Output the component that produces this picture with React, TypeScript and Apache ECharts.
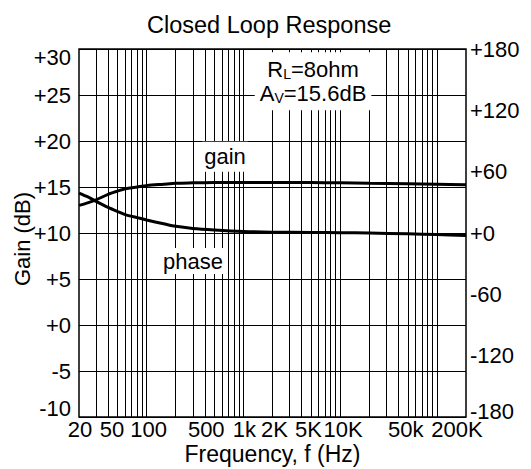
import { useEffect, useRef } from 'react';
import * as echarts from 'echarts';

// Frequency response data
const freqs = [20, 25, 30, 40, 50, 60, 80, 100, 150, 200, 300, 500, 1000, 2000, 5000, 10000, 20000, 50000, 100000, 200000];
const gainDb = [13.0, 13.3, 13.6, 14.2, 14.55, 14.8, 15.0, 15.15, 15.3, 15.4, 15.45, 15.5, 15.5, 15.5, 15.5, 15.45, 15.4, 15.35, 15.3, 15.25];
const phaseDeg = [39, 35, 31, 25, 21, 18, 15, 12.7, 9, 6.5, 4.5, 3, 1.5, 0.8, 0.5, 0.3, 0, -0.8, -1.5, -2.5];

// X tick labels
const xTickFreqs = [20, 50, 100, 500, 1000, 2000, 5000, 10000, 50000, 200000];
const xTickLabels = ['20', '50', '100', '500', '1k', '2K', '5K', '10K', '50k', '200K'];
const xTickShift = [1, -5.5, 2, -8, 1, 2, -2.5, 3, -2, -9];

// Vertical grid lines (1..9 per decade)
const gridMultipliers = [1, 2, 3, 4, 5, 6, 7, 8, 9];
const gridDecades = [10, 100, 1000, 10000, 100000];

// Annotations: [freq, gain dB]
const gainLabelPos = [646, 18.3];
const phaseLabelPos = [301, 6.95];
const condLabelPos = [5250, 26.5];

const FONT = '"Liberation Sans", Arial, Helvetica, sans-serif';

function fmtSigned(v: number) {
  return v > 0 ? '+' + v : v === 0 ? '+0' : String(v);
}

export default function App() {
  const ref = useRef<HTMLDivElement>(null);
  useEffect(() => {
    const chart = echarts.init(ref.current!, null, { renderer: 'svg' });
    const gridFreqs: number[] = [];
    gridDecades.forEach((d) =>
      gridMultipliers.forEach((m) => {
        const v = m * d;
        if (v > 20 && v < 200000) gridFreqs.push(v);
      })
    );
    const xRich: Record<string, any> = {};
    xTickShift.forEach((s, i) => {
      xRich['s' + i] = {
        fontSize: 22,
        lineHeight: 18,
        fontFamily: FONT,
        color: '#000',
        padding: s < 0 ? [0, -2 * s, 0, 0] : [0, 0, 0, 2 * s],
      };
    });
    const option: any = {
      animation: false,
      backgroundColor: '#fff',
      textStyle: { fontFamily: FONT },
      title: {
        text: 'Closed Loop Response',
        left: 142,
        top: 8,
        textStyle: { fontSize: 23.5, fontWeight: 'normal', color: '#000', fontFamily: FONT },
      },
      grid: {
        left: 79,
        right: 65,
        top: 49,
        bottom: 52,
        containLabel: false,
        outerBoundsMode: 'none',
        show: true,
        borderColor: '#000',
        borderWidth: 1.5,
        backgroundColor: 'transparent',
      },
      xAxis: [
        {
          type: 'log',
          logBase: 10,
          min: 20,
          max: 200000,
          position: 'bottom',
          axisLine: { show: false },
          axisTick: { show: false },
          axisLabel: { show: false },
          splitLine: { show: false },
          name: 'Frequency, f (Hz)',
          nameLocation: 'middle',
          nameGap: 25,
          nameMoveOverlap: false,
          nameTextStyle: { fontSize: 23, color: '#000', fontFamily: FONT },
        },
        {
          type: 'value',
          min: Math.log10(20),
          max: Math.log10(200000),
          position: 'bottom',
          axisLine: { show: false },
          axisTick: { show: false },
          splitLine: { show: false },
          axisLabel: {
            customValues: xTickFreqs.map((f) => Math.log10(f)),
            margin: 3,
            fontSize: 22,
            lineHeight: 18,
            color: '#000',
            fontFamily: FONT,
            formatter: (v: number) => {
              const i = xTickFreqs.findIndex((f) => Math.abs(Math.log10(f) - v) < 1e-6);
              if (i < 0) return '';
              return `{s${i}|${xTickLabels[i]}}`;
            },
            rich: xRich,
          },
        },
      ],
      yAxis: [
        {
          type: 'value',
          min: -10,
          max: 30,
          interval: 5,
          position: 'left',
          name: 'Gain (dB)',
          nameLocation: 'middle',
          nameGap: 46,
          nameMoveOverlap: false,
          nameTextStyle: { fontSize: 22, color: '#000', fontFamily: FONT, padding: [0, 12, 0, 0] },
          axisLine: { show: false },
          axisTick: { show: false },
          splitLine: { show: true, lineStyle: { color: '#000', width: 1 } },
          axisLabel: {
            margin: 8,
            fontSize: 22,
            color: '#000',
            fontFamily: FONT,
            formatter: (v: number) => {
              const s = fmtSigned(v);
              if (v === 30) return `{top|${s}}`;
              if (v === -10) return `{bot|${s}}`;
              return s;
            },
            rich: {
              top: { fontSize: 22, color: '#000', fontFamily: FONT, padding: [16, 0, 0, 0] },
              bot: { fontSize: 22, color: '#000', fontFamily: FONT, padding: [0, 0, 18, 0] },
            },
          },
        },
        {
          type: 'value',
          min: -180,
          max: 180,
          interval: 60,
          position: 'right',
          axisLine: { show: false },
          axisTick: { show: false },
          splitLine: { show: false },
          axisLabel: {
            margin: 4,
            fontSize: 22,
            color: '#000',
            fontFamily: FONT,
            formatter: (v: number) => {
              const s = fmtSigned(v);
              if (v === -180) return `{bot|${s}}`;
              return s;
            },
            rich: {
              bot: { fontSize: 22, lineHeight: 18, color: '#000', fontFamily: FONT, padding: [0, 0, 12, 0] },
            },
          },
        },
      ],
      series: [
        {
          name: 'gain',
          type: 'line',
          xAxisIndex: 0,
          yAxisIndex: 0,
          smooth: 0.3,
          showSymbol: false,
          z: 4,
          lineStyle: { color: '#000', width: 3 },
          data: freqs.map((f, i) => [f, gainDb[i]]),
          markLine: {
            silent: true,
            symbol: ['none', 'none'],
            z: 2,
            label: { show: false },
            emphasis: { disabled: true },
            lineStyle: { color: '#000', width: 1, type: 'solid' },
            data: gridFreqs.map((v) => ({ xAxis: v })),
          },
          markPoint: {
            silent: true,
            z: 10,
            symbol: 'rect',
            symbolSize: 0,
            data: [
              {
                coord: gainLabelPos,
                label: {
                  show: true,
                  position: 'inside',
                  formatter: 'gain',
                  fontSize: 22,
                  color: '#000',
                  fontFamily: FONT,
                  backgroundColor: '#fff',
                  padding: [4, 2],
                },
              },
              {
                coord: phaseLabelPos,
                label: {
                  show: true,
                  position: 'inside',
                  formatter: 'phase',
                  fontSize: 22,
                  color: '#000',
                  fontFamily: FONT,
                  backgroundColor: '#fff',
                  padding: [2, 2],
                },
              },
              {
                coord: condLabelPos,
                label: {
                  show: true,
                  position: 'inside',
                  formatter: '{t|R}{s|L}{t|=8ohm}\n{t|A}{s|V}{t|=15.6dB}',
                  backgroundColor: '#fff',
                  padding: [5, 5],
                  align: 'center',
                  rich: {
                    t: { fontSize: 22, lineHeight: 24, color: '#000', fontFamily: FONT },
                    s: { fontSize: 14, lineHeight: 14, color: '#000', fontFamily: FONT, verticalAlign: 'bottom' },
                  },
                },
              },
            ],
          },
        },
        {
          name: 'phase',
          type: 'line',
          xAxisIndex: 0,
          yAxisIndex: 1,
          smooth: 0.3,
          showSymbol: false,
          z: 4,
          lineStyle: { color: '#000', width: 3 },
          data: freqs.map((f, i) => [f, phaseDeg[i]]),
        },
      ],
    };
    chart.setOption(option);
    return () => chart.dispose();
  }, []);
  return (
    <div
      ref={ref}
      style={{ position: 'fixed', left: 0, top: 0, width: 531, height: 469, background: '#fff' }}
    />
  );
}
